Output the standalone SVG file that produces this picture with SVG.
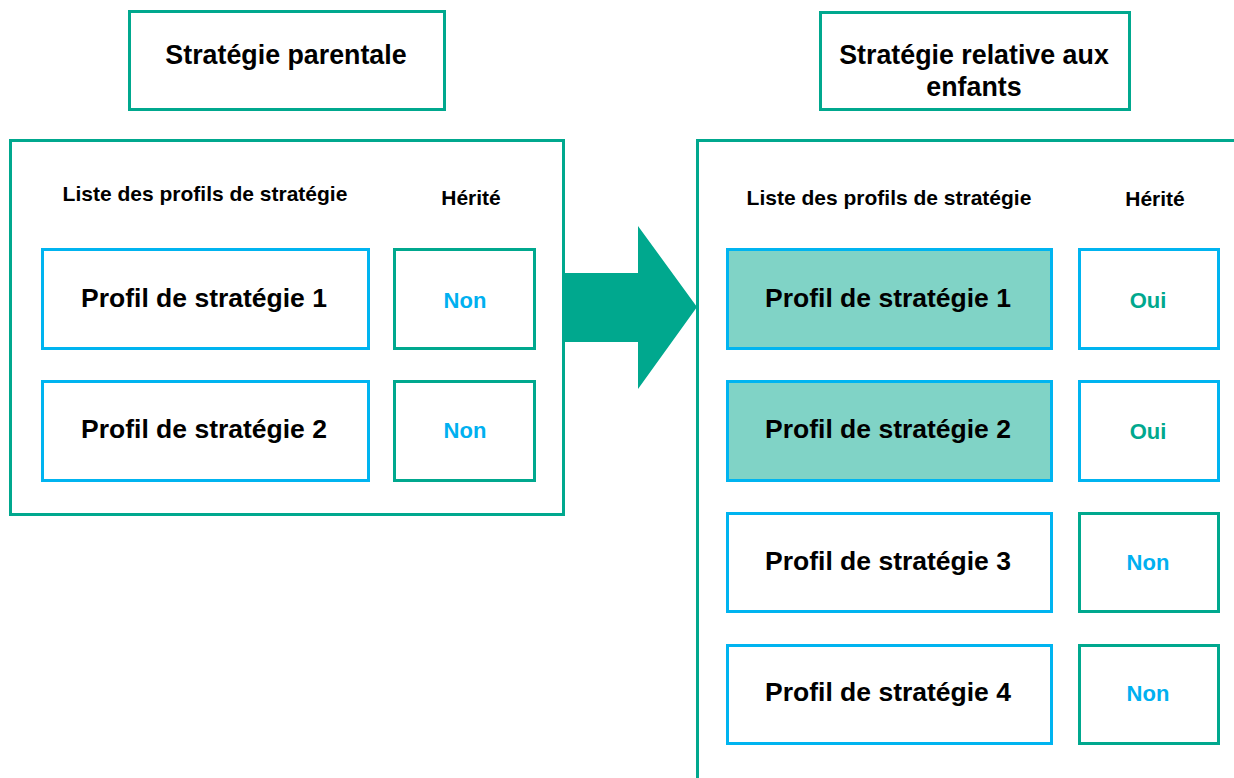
<svg xmlns="http://www.w3.org/2000/svg" width="1234" height="778" viewBox="0 0 1234 778">
<style>
.g{fill:#fff;stroke:#00A88E;stroke-width:3}
.b{fill:#fff;stroke:#00B4F0;stroke-width:3}
.bf{fill:#80D3C6;stroke:#00B4F0;stroke-width:3}
text{font-family:"Liberation Sans",Arial,sans-serif;font-weight:bold;text-anchor:middle}
.t{font-size:26.8px;fill:#000}
.h{font-size:21px;fill:#000}
.p{font-size:26.5px;fill:#000}
.non{font-size:22px;fill:#00B0F0}
.oui{font-size:22px;fill:#00A88E}
</style>
<g id="title-parent"><rect class="g" x="129.5" y="11.5" width="315" height="98"/><text class="t" x="286" y="64">Stratégie parentale</text></g>
<g id="title-child"><rect class="g" x="820.5" y="12.5" width="309" height="97"/><text class="t" x="974" y="64">Stratégie relative aux</text><text class="t" x="974" y="96">enfants</text></g>
<g id="panel-parent"><rect class="g" x="10.5" y="140.5" width="553" height="374"/>
<text class="h" x="205" y="201">Liste des profils de stratégie</text><text class="h" x="471" y="205">Hérité</text></g>
<g id="panel-child"><rect class="g" x="697.5" y="140.5" width="560" height="660"/>
<text class="h" x="889" y="205">Liste des profils de stratégie</text><text class="h" x="1155" y="206">Hérité</text></g>
<g id="p-profil1"><rect class="b" x="42.5" y="249.5" width="326" height="99"/><text class="p" x="204" y="307">Profil de stratégie 1</text></g>
<g id="p-non1"><rect class="g" x="394.5" y="249.5" width="140" height="99"/><text class="non" x="465" y="308">Non</text></g>
<g id="p-profil2"><rect class="b" x="42.5" y="381.5" width="326" height="99"/><text class="p" x="204" y="438">Profil de stratégie 2</text></g>
<g id="p-non2"><rect class="g" x="394.5" y="381.5" width="140" height="99"/><text class="non" x="465" y="438">Non</text></g>
<g id="c-profil1"><rect class="bf" x="727.5" y="249.5" width="324" height="99"/><text class="p" x="888" y="307">Profil de stratégie 1</text></g>
<g id="c-oui1"><rect class="b" x="1079.5" y="249.5" width="139" height="99"/><text class="oui" x="1148" y="308">Oui</text></g>
<g id="c-profil2"><rect class="bf" x="727.5" y="381.5" width="324" height="99"/><text class="p" x="888" y="438">Profil de stratégie 2</text></g>
<g id="c-oui2"><rect class="b" x="1079.5" y="381.5" width="139" height="99"/><text class="oui" x="1148" y="439">Oui</text></g>
<g id="c-profil3"><rect class="b" x="727.5" y="513.5" width="324" height="98"/><text class="p" x="888" y="570">Profil de stratégie 3</text></g>
<g id="c-non3"><rect class="g" x="1079.5" y="513.5" width="139" height="98"/><text class="non" x="1148" y="570">Non</text></g>
<g id="c-profil4"><rect class="b" x="727.5" y="645.5" width="324" height="98"/><text class="p" x="888" y="701">Profil de stratégie 4</text></g>
<g id="c-non4"><rect class="g" x="1079.5" y="645.5" width="139" height="98"/><text class="non" x="1148" y="701">Non</text></g>
<g id="connectors"><polygon points="564,273 638,273 638,226 697,307 638,389 638,342 564,342" fill="#00A88E"/></g>
</svg>
